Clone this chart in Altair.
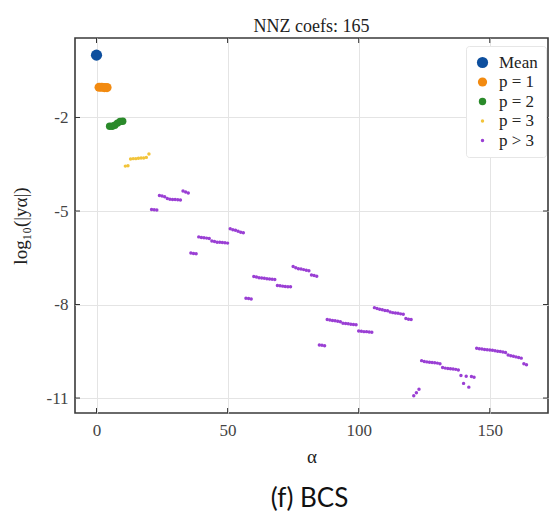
import altair as alt
import pandas as pd

title_text = "NNZ coefs: 165"
caption_text = ["(f) BCS"]
x_title = "α"
y_title = "log₁₀(|yα|)"

group_names = ["Mean", "p = 1", "p = 2", "p = 3", "p > 3"]
group_colors = ["#0d4f9e", "#f28a10", "#2a8a2a", "#f2c43a", "#9a3fd4"]
group_sizes = [125, 85, 55, 12, 12]

x_ticks = [0, 50, 100, 150]
y_ticks = [-2, -5, -8, -11]

mean_alpha = [0]
mean_vals = [0.0]

p1_alpha = [1, 2, 3, 4]
p1_vals = [-1.03, -1.03, -1.04, -1.04]

p2_alpha = [5, 6, 7, 8, 9, 10]
p2_vals = [-2.28, -2.28, -2.25, -2.18, -2.13, -2.12]

p3_alpha = [11, 12, 13, 14, 15, 16, 17, 18, 19, 20]
p3_vals = [-3.56, -3.55, -3.33, -3.32, -3.32, -3.31, -3.30, -3.30, -3.28, -3.17]

p4_alpha = list(range(21, 165))
p4_vals = [
    -4.95, -4.96, -4.97,
    -4.50, -4.52, -4.54,
    -4.60, -4.62, -4.63, -4.63, -4.64, -4.65,
    -4.36, -4.39, -4.42,
    -6.35, -6.36, -6.37,
    -5.83, -5.85, -5.86, -5.87, -5.88,
    -5.96, -5.98, -6.00, -6.00, -6.01, -6.02, -6.03,
    -5.57, -5.60, -5.62, -5.65, -5.68, -5.70,
    -7.80, -7.81, -7.82,
    -7.10, -7.12, -7.14, -7.15, -7.16, -7.17, -7.18, -7.19, -7.20,
    -7.39, -7.40, -7.41, -7.42, -7.43, -7.43,
    -6.78, -6.82, -6.85, -6.86, -6.88, -6.90, -6.92,
    -7.05, -7.07, -7.09,
    -9.30, -9.31, -9.32,
    -8.48, -8.50, -8.51, -8.52, -8.54, -8.55,
    -8.60, -8.61, -8.62, -8.63, -8.64, -8.65,
    -8.85, -8.86, -8.87, -8.87, -8.88, -8.89,
    -8.10, -8.13, -8.15, -8.17, -8.19, -8.20,
    -8.24, -8.26, -8.27, -8.28, -8.30, -8.31,
    -8.45, -8.47, -8.48,
    -10.93, -10.83, -10.72,
    -9.80, -9.83, -9.84, -9.85, -9.86, -9.87, -9.88, -9.90,
    -10.02, -10.04, -10.05, -10.06, -10.07, -10.08, -10.10,
    -10.28, -10.53, -10.30, -10.65, -10.31, -10.33,
    -9.40, -9.42, -9.43, -9.44, -9.45, -9.46, -9.47, -9.48, -9.50, -9.51, -9.52, -9.54,
    -9.62, -9.64, -9.66, -9.68, -9.70, -9.72,
    -9.90, -9.93,
]

rows = []
for name, al, vals in [
    ("p > 3", p4_alpha, p4_vals),
    ("p = 3", p3_alpha, p3_vals),
    ("p = 2", p2_alpha, p2_vals),
    ("p = 1", p1_alpha, p1_vals),
    ("Mean", mean_alpha, mean_vals),
]:
    for a, v in zip(al, vals):
        rows.append({"alpha": a, "logy": v, "group": name})
df = pd.DataFrame(rows)

W, H = 473, 375
SERIF = "Liberation Serif"

x_scale = alt.Scale(domain=[-8.2, 172.2], nice=False, zero=False)
y_scale = alt.Scale(domain=[-11.48, 0.55], nice=False, zero=False)

x_axis = alt.Axis(values=x_ticks, title=x_title, grid=True, ticks=False, domain=False,
                  labelPadding=9, titlePadding=9, titleFontSize=19)
y_axis = alt.Axis(values=y_ticks, title=y_title, grid=True, ticks=False, domain=False,
                  labelPadding=7, titlePadding=15, titleFontSize=19,
                  labelExpr="'' + datum.value")

leg = alt.Legend(title=None, orient="none", legendX=391, legendY=8,
                 labelFont=SERIF, labelFontSize=17, labelColor="#222",
                 labelOffset=8, rowPadding=1.5, padding=8,
                 fillColor="white", strokeColor="#e6e6e6", cornerRadius=3,
                 symbolType="circle", symbolStrokeWidth=0)

points = alt.Chart(df).mark_circle(opacity=1).encode(
    x=alt.X("alpha:Q", scale=x_scale, axis=x_axis),
    y=alt.Y("logy:Q", scale=y_scale, axis=y_axis),
    color=alt.Color("group:O", sort=group_names,
                    scale=alt.Scale(type="ordinal", domain=group_names, range=group_colors),
                    legend=leg),
    size=alt.Size("group:O", sort=group_names,
                  scale=alt.Scale(type="ordinal", domain=group_names, range=group_sizes),
                  legend=leg),
)

xt = pd.DataFrame({"alpha": x_ticks})
yt = pd.DataFrame({"logy": y_ticks})
tick_color = "#333333"

bottom_ticks = alt.Chart(xt).mark_rule(color=tick_color, strokeWidth=1).encode(
    x=alt.X("alpha:Q", scale=x_scale, axis=x_axis), y=alt.value(H), y2=alt.value(H - 5))
top_ticks = alt.Chart(xt).mark_rule(color=tick_color, strokeWidth=1).encode(
    x=alt.X("alpha:Q", scale=x_scale, axis=x_axis), y=alt.value(0), y2=alt.value(5))
left_ticks = alt.Chart(yt).mark_rule(color=tick_color, strokeWidth=1).encode(
    y=alt.Y("logy:Q", scale=y_scale, axis=y_axis), x=alt.value(0), x2=alt.value(5))
right_ticks = alt.Chart(yt).mark_rule(color=tick_color, strokeWidth=1).encode(
    y=alt.Y("logy:Q", scale=y_scale, axis=y_axis), x=alt.value(W), x2=alt.value(W - 5))

caption = alt.Chart(pd.DataFrame({"t": caption_text})).mark_text(
    font="Lato", fontSize=26, color="#111", align="center", baseline="middle"
).encode(text="t:N", x=alt.value(W / 2 - 2), y=alt.value(H + 86))

chart = alt.layer(bottom_ticks, top_ticks, left_ticks, right_ticks, points, caption).properties(
    width=W, height=H,
    title=alt.TitleParams(title_text, font=SERIF, fontSize=18, fontWeight="normal",
                          color="#222", offset=2, anchor="middle"),
    padding={"left": 75, "top": 38, "right": 3, "bottom": 100},
    autosize="none",
    background="white",
).configure_view(
    stroke="#3a3a3a", strokeWidth=1.6
).configure_axis(
    labelFont=SERIF, labelFontSize=17, labelColor="#444",
    titleFont=SERIF, titleFontSize=17, titleFontWeight="normal", titleColor="#222",
    gridColor="#e4e4e4", gridWidth=1,
)

chart.save("out.html", embed_options={"renderer": "svg", "actions": False})
